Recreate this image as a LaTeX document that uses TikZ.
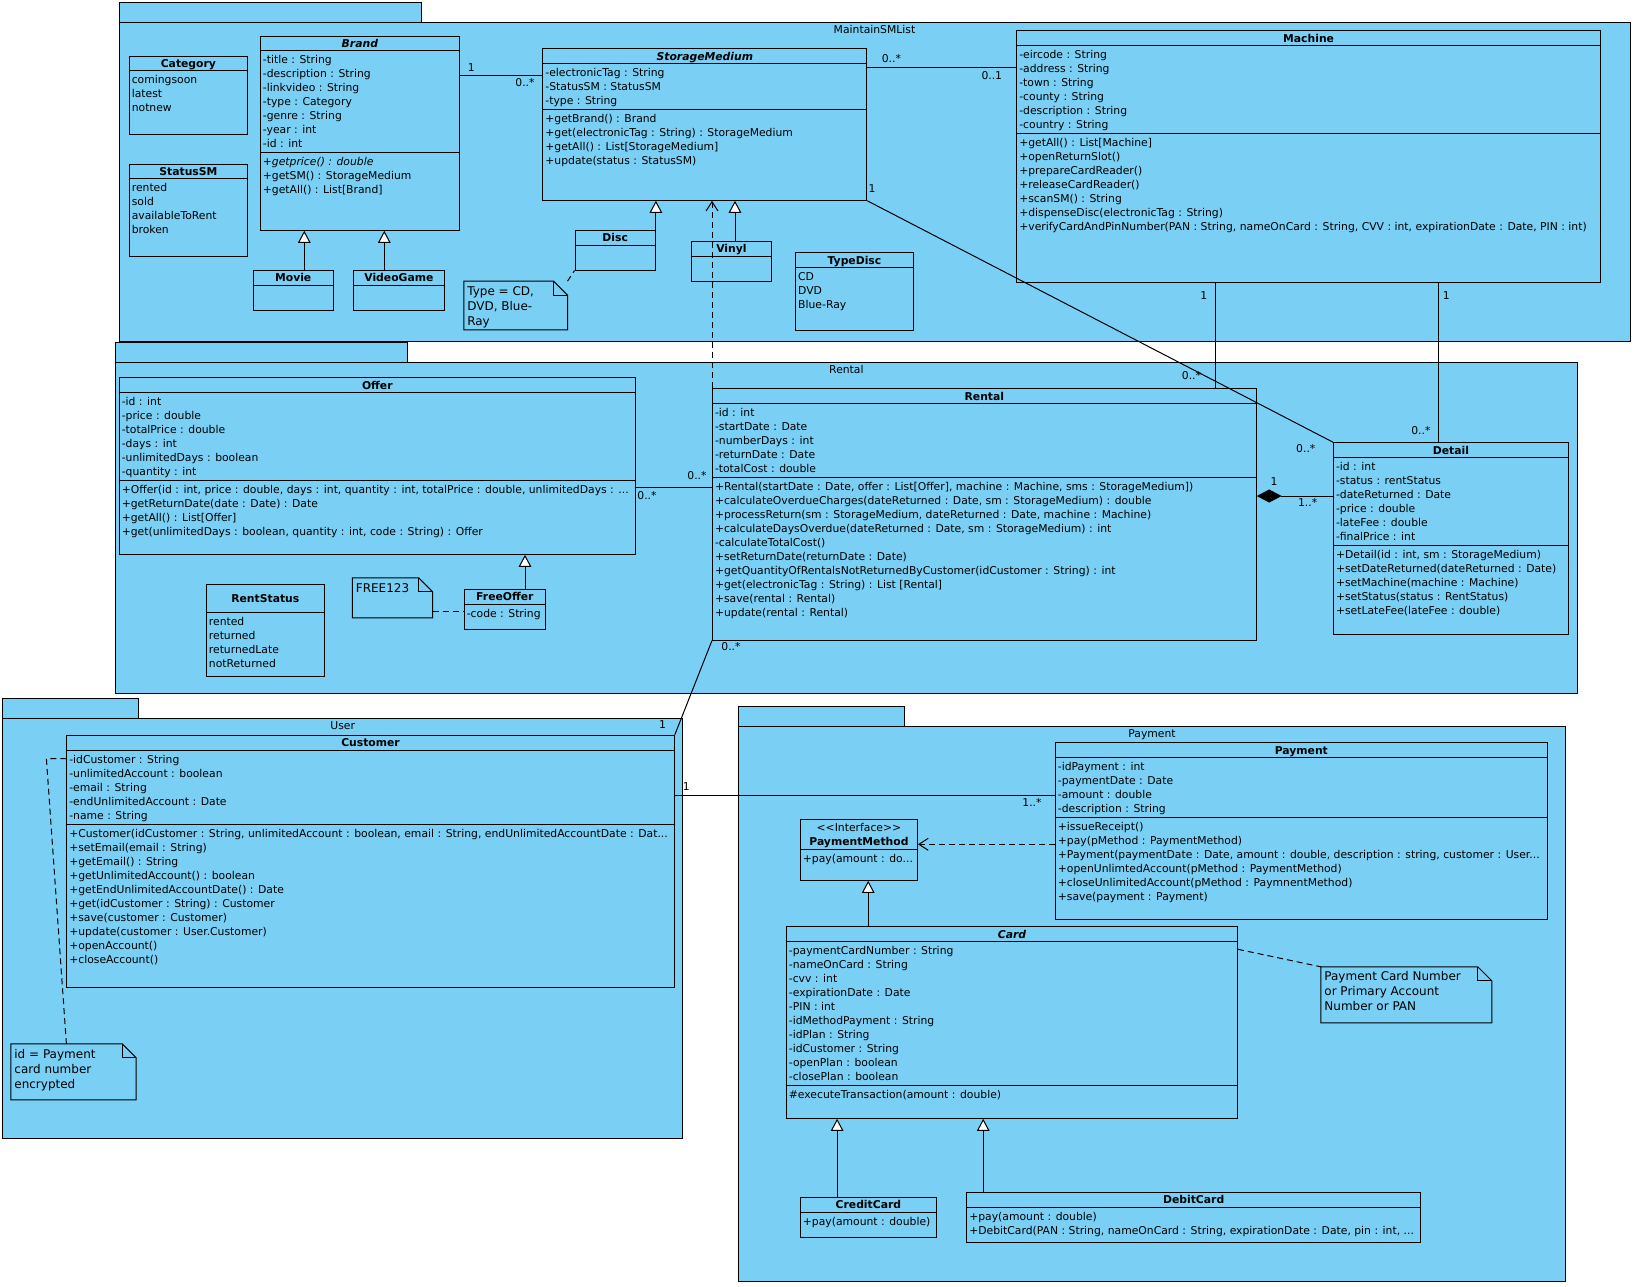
\documentclass[tikz,border=0pt]{standalone}
\usepackage{fontspec}
\usetikzlibrary{arrows.meta,fit}
\newfontfamily\vpf{DejaVu Sans}
\definecolor{vpblue}{RGB}{122,207,245}
\newcommand\vpsize{\fontsize{8.1pt}{10pt}\selectfont}
\newcommand\notesize{\fontsize{9pt}{11pt}\selectfont}
\newcommand\notebox[1]{%
  \filldraw[fill=vpblue] (#1.north west) -- ([xshift=-10.5pt]#1.north east) -- ([yshift=-10.5pt]#1.north east) -- (#1.south east) -- (#1.south west) -- cycle;
  \draw ([xshift=-10.5pt]#1.north east) -- ([xshift=-10.5pt,yshift=-10.5pt]#1.north east) -- ([yshift=-10.5pt]#1.north east);}
\newcommand\hl[2]{\draw (#1.west |- 0,#2) -- (#1.east |- 0,#2);}
\begin{document}
\begin{tikzpicture}[x=0.75pt,y=-0.75pt,line width=0.75pt,
  box/.style={draw=black, fill=vpblue, inner sep=0pt},
  ghost/.style={inner sep=0pt},
  txt/.style={anchor=base west, inner sep=0pt, font=\vpf\vpsize},
  itxt/.style={anchor=base west, inner sep=0pt, font=\vpf\itshape\vpsize},
  ttl/.style={anchor=base, inner sep=0pt, font=\vpf\bfseries\vpsize},
  ittl/.style={anchor=base, inner sep=0pt, font=\vpf\bfseries\itshape\vpsize},
  lbl/.style={anchor=base, inner sep=0pt, font=\vpf\vpsize},
  mult/.style={inner sep=0pt, font=\vpf\vpsize},
  ntxt/.style={anchor=base west, inner sep=0pt, font=\vpf\notesize},
  gen/.style={-{Triangle[length=9pt,width=9.4pt,fill=white]}},
  dep/.style={dash pattern=on 4.5pt off 3pt, -{Straight Barb[length=7pt,width=9pt]}},
  ndash/.style={dash pattern=on 4.5pt off 3pt},
  comp/.style={{Diamond[length=18.6pt,width=9.8pt,fill=black]}-},
]
\fill[white] (0,0) rectangle (1635,1286);
\useasboundingbox (0,0) rectangle (1635,1286);

% ---------------- packages
\node[box, fit={(119.3,2.7) (421.4,22.3)}] (pk1tab) {};
\node[box, fit={(119.3,22.3) (1630,341)}] (pk1) {};
\node[lbl] at (874.5,33) {MaintainSMList};
\node[box, fit={(115.4,342.3) (407.1,362.3)}] (pk2tab) {};
\node[box, fit={(115.4,362.3) (1577.3,693.3)}] (pk2) {};
\node[lbl] at (846.4,373) {Rental};
\node[box, fit={(2.5,698.3) (138.2,718.3)}] (pk3tab) {};
\node[box, fit={(2.5,718.3) (682.9,1138.3)}] (pk3) {};
\node[lbl] at (342.7,729.3) {User};
\node[box, fit={(738.9,706.3) (904.3,726.3)}] (pk4tab) {};
\node[box, fit={(738.9,726.3) (1565,1281)}] (pk4) {};
\node[lbl] at (1152,737.3) {Payment};

% ---------------- MaintainSMList classes
\node[box, fit={(129.3,56.7) (247.5,134.7)}] (category) {};
\hl{category}{70.7}
\node[ttl] at (category.north |- 0,67.7) {Category};
\node[txt] at (131.3,83.3) {comingsoon};
\node[txt] at (131.3,97.3) {latest};
\node[txt] at (131.3,111.3) {notnew};

\node[box, fit={(129.3,164.3) (247.5,256.3)}] (statussm) {};
\hl{statussm}{178.7}
\node[ttl] at (statussm.north |- 0,175.5) {StatusSM};
\node[txt] at (131.3,191) {rented};
\node[txt] at (131.3,205) {sold};
\node[txt] at (131.3,219) {availableToRent};
\node[txt] at (131.3,233) {broken};

\node[box, fit={(260.4,36.7) (459.3,230.3)}] (brand) {};
\hl{brand}{50.7}
\hl{brand}{152.7}
\node[ittl] at (brand.north |- 0,47.7) {Brand};
\node[txt] at (262.4,63) {-title : String};
\node[txt] at (262.4,77) {-description : String};
\node[txt] at (262.4,91) {-linkvideo : String};
\node[txt] at (262.4,105) {-type : Category};
\node[txt] at (262.4,119) {-genre : String};
\node[txt] at (262.4,133) {-year : int};
\node[txt] at (262.4,147) {-id : int};
\node[itxt] at (262.4,165) {+getprice() : double};
\node[txt] at (262.4,179) {+getSM() : StorageMedium};
\node[txt] at (262.4,193) {+getAll() : List[Brand]};

\node[box, fit={(253.2,270.3) (333.2,310.3)}] (movie) {};
\hl{movie}{285.3}
\node[ttl] at (movie.north |- 0,281.8) {Movie};
\node[box, fit={(353.2,270.3) (444.6,310.3)}] (videogame) {};
\hl{videogame}{285.3}
\node[ttl] at (videogame.north |- 0,281.8) {VideoGame};

\node[box, fit={(542.9,48.7) (866.8,200.3)}] (sm) {};
\hl{sm}{63.3}
\hl{sm}{109.3}
\node[ittl] at (sm.north |- 0,60) {StorageMedium};
\node[txt] at (544.9,76) {-electronicTag : String};
\node[txt] at (544.9,90) {-StatusSM : StatusSM};
\node[txt] at (544.9,104) {-type : String};
\node[txt] at (544.9,122) {+getBrand() : Brand};
\node[txt] at (544.9,136) {+get(electronicTag : String) : StorageMedium};
\node[txt] at (544.9,150) {+getAll() : List[StorageMedium]};
\node[txt] at (544.9,164) {+update(status : StatusSM)};

\node[box, fit={(575,230) (655.4,270)}] (disc) {};
\hl{disc}{245.3}
\node[ttl] at (disc.north |- 0,241.7) {Disc};
\node[box, fit={(691.4,241.3) (771.4,281.3)}] (vinyl) {};
\hl{vinyl}{256.3}
\node[ttl] at (vinyl.north |- 0,252.8) {Vinyl};

\node[box, fit={(795.7,252.7) (913.2,330.3)}] (typedisc) {};
\hl{typedisc}{267.3}
\node[ttl] at (typedisc.north |- 0,264) {TypeDisc};
\node[txt] at (797.7,280) {CD};
\node[txt] at (797.7,294) {DVD};
\node[txt] at (797.7,308) {Blue-Ray};

\node[ghost, fit={(464.3,281.7) (567,329.3)}] (typenote) {};
\notebox{typenote}
\node[ntxt] at (466.8,295.2) {Type = CD,};
\node[ntxt] at (466.8,310.2) {DVD, Blue-};
\node[ntxt] at (466.8,325.2) {Ray};

\node[box, fit={(1016.8,30.7) (1600.4,282.3)}] (machine) {};
\hl{machine}{45.7}
\hl{machine}{133.3}
\node[ttl] at (machine.north |- 0,42.2) {Machine};
\node[txt] at (1018.8,58) {-eircode : String};
\node[txt] at (1018.8,72) {-address : String};
\node[txt] at (1018.8,86) {-town : String};
\node[txt] at (1018.8,100) {-county : String};
\node[txt] at (1018.8,114) {-description : String};
\node[txt] at (1018.8,128) {-country : String};
\node[txt] at (1018.8,146) {+getAll() : List[Machine]};
\node[txt] at (1018.8,160) {+openReturnSlot()};
\node[txt] at (1018.8,174) {+prepareCardReader()};
\node[txt] at (1018.8,188) {+releaseCardReader()};
\node[txt] at (1018.8,202) {+scanSM() : String};
\node[txt] at (1018.8,216) {+dispenseDisc(electronicTag : String)};
\node[txt] at (1018.8,230) {+verifyCardAndPinNumber(PAN : String, nameOnCard : String, CVV : int, expirationDate : Date, PIN : int)};

% ---------------- Rental package classes
\node[box, fit={(119.3,377.7) (635.4,554.3)}] (offer) {};
\hl{offer}{392.3}
\hl{offer}{480.7}
\node[ttl] at (offer.north |- 0,389) {Offer};
\node[txt] at (121.3,405) {-id : int};
\node[txt] at (121.3,419) {-price : double};
\node[txt] at (121.3,433) {-totalPrice : double};
\node[txt] at (121.3,447) {-days : int};
\node[txt] at (121.3,461) {-unlimitedDays : boolean};
\node[txt] at (121.3,475) {-quantity : int};
\node[txt] at (121.3,493) {+Offer(id : int, price : double, days : int, quantity : int, totalPrice : double, unlimitedDays : ...};
\node[txt] at (121.3,507) {+getReturnDate(date : Date) : Date};
\node[txt] at (121.3,521) {+getAll() : List[Offer]};
\node[txt] at (121.3,535) {+get(unlimitedDays : boolean, quantity : int, code : String) : Offer};

\node[box, fit={(206.4,584.3) (324.3,676)}] (rentstatus) {};
\hl{rentstatus}{612.3}
\node[ttl] at (rentstatus.north |- 0,602.3) {RentStatus};
\node[txt] at (208.4,625) {rented};
\node[txt] at (208.4,639) {returned};
\node[txt] at (208.4,653) {returnedLate};
\node[txt] at (208.4,667) {notReturned};

\node[ghost, fit={(352.9,578.3) (432.1,617.3)}] (freenote) {};
\notebox{freenote}
\node[ntxt] at (355.4,592.2) {FREE123};

\node[box, fit={(464.3,589.3) (545.4,629)}] (freeoffer) {};
\hl{freeoffer}{604.3}
\node[ttl] at (freeoffer.north |- 0,600.8) {FreeOffer};
\node[txt] at (466.3,617.3) {-code : String};

\node[box, fit={(712.5,388.7) (1256.3,640)}] (rental) {};
\hl{rental}{403.3}
\hl{rental}{477}
\node[ttl] at (rental.north |- 0,400) {Rental};
\node[txt] at (714.5,416) {-id : int};
\node[txt] at (714.5,430) {-startDate : Date};
\node[txt] at (714.5,444) {-numberDays : int};
\node[txt] at (714.5,458) {-returnDate : Date};
\node[txt] at (714.5,472) {-totalCost : double};
\node[txt] at (714.5,490) {+Rental(startDate : Date, offer : List[Offer], machine : Machine, sms : StorageMedium])};
\node[txt] at (714.5,504) {+calculateOverdueCharges(dateReturned : Date, sm : StorageMedium) : double};
\node[txt] at (714.5,518) {+processReturn(sm : StorageMedium, dateReturned : Date, machine : Machine)};
\node[txt] at (714.5,532) {+calculateDaysOverdue(dateReturned : Date, sm : StorageMedium) : int};
\node[txt] at (714.5,546) {-calculateTotalCost()};
\node[txt] at (714.5,560) {+setReturnDate(returnDate : Date)};
\node[txt] at (714.5,574) {+getQuantityOfRentalsNotReturnedByCustomer(idCustomer : String) : int};
\node[txt] at (714.5,588) {+get(electronicTag : String) : List [Rental]};
\node[txt] at (714.5,602) {+save(rental : Rental)};
\node[txt] at (714.5,616) {+update(rental : Rental)};

\node[box, fit={(1333.5,442.7) (1568.5,634)}] (detail) {};
\hl{detail}{457.3}
\hl{detail}{545.3}
\node[ttl] at (detail.north |- 0,454) {Detail};
\node[txt] at (1335.5,470) {-id : int};
\node[txt] at (1335.5,484) {-status : rentStatus};
\node[txt] at (1335.5,498) {-dateReturned : Date};
\node[txt] at (1335.5,512) {-price : double};
\node[txt] at (1335.5,526) {-lateFee : double};
\node[txt] at (1335.5,540) {-finalPrice : int};
\node[txt] at (1335.5,558) {+Detail(id : int, sm : StorageMedium)};
\node[txt] at (1335.5,572) {+setDateReturned(dateReturned : Date)};
\node[txt] at (1335.5,586) {+setMachine(machine : Machine)};
\node[txt] at (1335.5,600) {+setStatus(status : RentStatus)};
\node[txt] at (1335.5,614) {+setLateFee(lateFee : double)};

% ---------------- User package
\node[box, fit={(66.8,735.3) (674.3,987.3)}] (customer) {};
\hl{customer}{750.3}
\hl{customer}{824.3}
\node[ttl] at (customer.north |- 0,746.8) {Customer};
\node[txt] at (68.8,763.3) {-idCustomer : String};
\node[txt] at (68.8,777.3) {-unlimitedAccount : boolean};
\node[txt] at (68.8,791.3) {-email : String};
\node[txt] at (68.8,805.3) {-endUnlimitedAccount : Date};
\node[txt] at (68.8,819.3) {-name : String};
\node[txt] at (68.8,837.3) {+Customer(idCustomer : String, unlimitedAccount : boolean, email : String, endUnlimitedAccountDate : Dat...};
\node[txt] at (68.8,851.3) {+setEmail(email : String)};
\node[txt] at (68.8,865.3) {+getEmail() : String};
\node[txt] at (68.8,879.3) {+getUnlimitedAccount() : boolean};
\node[txt] at (68.8,893.3) {+getEndUnlimitedAccountDate() : Date};
\node[txt] at (68.8,907.3) {+get(idCustomer : String) : Customer};
\node[txt] at (68.8,921.3) {+save(customer : Customer)};
\node[txt] at (68.8,935.3) {+update(customer : User.Customer)};
\node[txt] at (68.8,949.3) {+openAccount()};
\node[txt] at (68.8,963.3) {+closeAccount()};

\node[ghost, fit={(11.4,1044.3) (135.7,1099.3)}] (usernote) {};
\notebox{usernote}
\node[ntxt] at (13.9,1058.2) {id = Payment};
\node[ntxt] at (13.9,1073.2) {card number};
\node[ntxt] at (13.9,1088.2) {encrypted};

% ---------------- Payment package
\node[box, fit={(1055.4,742.7) (1547.3,919.3)}] (payment) {};
\hl{payment}{757.3}
\hl{payment}{817.3}
\node[ttl] at (payment.north |- 0,754) {Payment};
\node[txt] at (1057.4,770) {-idPayment : int};
\node[txt] at (1057.4,784) {-paymentDate : Date};
\node[txt] at (1057.4,798) {-amount : double};
\node[txt] at (1057.4,812) {-description : String};
\node[txt] at (1057.4,830) {+issueReceipt()};
\node[txt] at (1057.4,844) {+pay(pMethod : PaymentMethod)};
\node[txt] at (1057.4,858) {+Payment(paymentDate : Date, amount : double, description : string, customer : User...};
\node[txt] at (1057.4,872) {+openUnlimtedAccount(pMethod : PaymentMethod)};
\node[txt] at (1057.4,886) {+closeUnlimitedAccount(pMethod : PaymnentMethod)};
\node[txt] at (1057.4,900) {+save(payment : Payment)};

\node[box, fit={(800.4,819.3) (917.5,880.3)}] (pm) {};
\hl{pm}{849.3}
\node[lbl] at (pm.north |- 0,831.7) {<\kern0pt<Interface>\kern0pt>};
\node[ttl] at (pm.north |- 0,845) {PaymentMethod};
\node[txt] at (802.4,862.3) {+pay(amount : do...};

\node[box, fit={(786.4,926.7) (1237.5,1118.3)}] (card) {};
\hl{card}{941.7}
\hl{card}{1085.7}
\node[ittl] at (card.north |- 0,938.2) {Card};
\node[txt] at (788.4,954) {-paymentCardNumber : String};
\node[txt] at (788.4,968) {-nameOnCard : String};
\node[txt] at (788.4,982) {-cvv : int};
\node[txt] at (788.4,996) {-expirationDate : Date};
\node[txt] at (788.4,1010) {-PIN : int};
\node[txt] at (788.4,1024) {-idMethodPayment : String};
\node[txt] at (788.4,1038) {-idPlan : String};
\node[txt] at (788.4,1052) {-idCustomer : String};
\node[txt] at (788.4,1066) {-openPlan : boolean};
\node[txt] at (788.4,1080) {-closePlan : boolean};
\node[txt] at (788.4,1098) {\#executeTransaction(amount : double)};

\node[ghost, fit={(1321.4,967.3) (1491.3,1022.3)}] (pannote) {};
\notebox{pannote}
\node[ntxt] at (1323.9,980.8) {Payment Card Number};
\node[ntxt] at (1323.9,995.8) {or Primary Account};
\node[ntxt] at (1323.9,1010.8) {Number or PAN};

\node[box, fit={(800.4,1197.3) (936.4,1237.3)}] (creditcard) {};
\hl{creditcard}{1212.3}
\node[ttl] at (creditcard.north |- 0,1208.8) {CreditCard};
\node[txt] at (802.4,1225) {+pay(amount : double)};

\node[box, fit={(966.8,1192.3) (1420.5,1242.3)}] (debitcard) {};
\hl{debitcard}{1207.3}
\node[ttl] at (debitcard.north |- 0,1203.8) {DebitCard};
\node[txt] at (968.8,1220) {+pay(amount : double)};
\node[txt] at (968.8,1234) {+DebitCard(PAN : String, nameOnCard : String, expirationDate : Date, pin : int, ...};

% ---------------- connectors
\draw (brand.east |- 0,75.3) -- (sm.west |- 0,75.3);
\node[mult] at (471.4,67.3) {1};
\node[mult] at (525,82.7) {0..*};
\draw (sm.east |- 0,67.7) -- (machine.west |- 0,67.7);
\node[mult] at (891.4,59) {0..*};
\node[mult] at (991.8,75.3) {0..1};
\draw (sm.south east) -- (detail.north west);
\node[mult] at (872,189) {1};
\node[mult] at (1305.8,449) {0..*};
\draw (machine.south -| 1215.6,0) -- (rental.north -| 1215.6,0);
\node[mult] at (1203.9,295.3) {1};
\node[mult] at (1191.5,375.7) {0..*};
\draw (machine.south -| 1438.2,0) -- (detail.north -| 1438.2,0);
\node[mult] at (1446.4,295.3) {1};
\node[mult] at (1420.9,430.7) {0..*};
\draw (offer.east |- 0,487) -- (rental.west |- 0,487);
\node[mult] at (697,475.7) {0..*};
\node[mult] at (647,495.7) {0..*};
\draw[comp] (rental.east |- 0,496) -- (detail.west |- 0,496);
\node[mult] at (1274,481.7) {1};
\node[mult] at (1307.6,502.7) {1..*};
\draw (rental.south west) -- (customer.north east);
\node[mult] at (731,646.7) {0..*};
\node[mult] at (662.5,724.3) {1};
\draw (customer.east |- 0,795.3) -- (payment.west |- 0,795.3);
\node[mult] at (686.4,786.7) {1};
\node[mult] at (1032,802.7) {1..*};
\draw[dep] (payment.west |- 0,844.3) -- (pm.east |- 0,844.3);
\draw[dep] (rental.north west) -- (sm.south -| rental.north west);

\draw[gen] (movie.north -| 304.3,0) -- (brand.south -| 304.3,0);
\draw[gen] (videogame.north -| 384.3,0) -- (brand.south -| 384.3,0);
\draw[gen] (disc.north east) -- (sm.south -| disc.north east);
\draw[gen] (vinyl.north -| 735,0) -- (sm.south -| 735,0);
\draw[gen] (freeoffer.north -| 525,0) -- (offer.south -| 525,0);
\draw[gen] (card.north -| 868.2,0) -- (pm.south -| 868.2,0);
\draw[gen] (creditcard.north -| 837.1,0) -- (card.south -| 837.1,0);
\draw[gen] (debitcard.north -| 983.2,0) -- (card.south -| 983.2,0);

\draw[ndash] (typenote.north east) -- (disc.south west);
\draw[ndash] (freenote.east |- 0,611.7) -- (freeoffer.west |- 0,611.7);
\coordinate (ubend) at (46.4,758.7);
\draw[ndash] (customer.west |- 0,758.7) -- (ubend) -- (usernote.north -| 66.4,0);
\draw[ndash] (card.east |- 0,949.3) -- (pannote.north west);
\end{tikzpicture}
\end{document}
